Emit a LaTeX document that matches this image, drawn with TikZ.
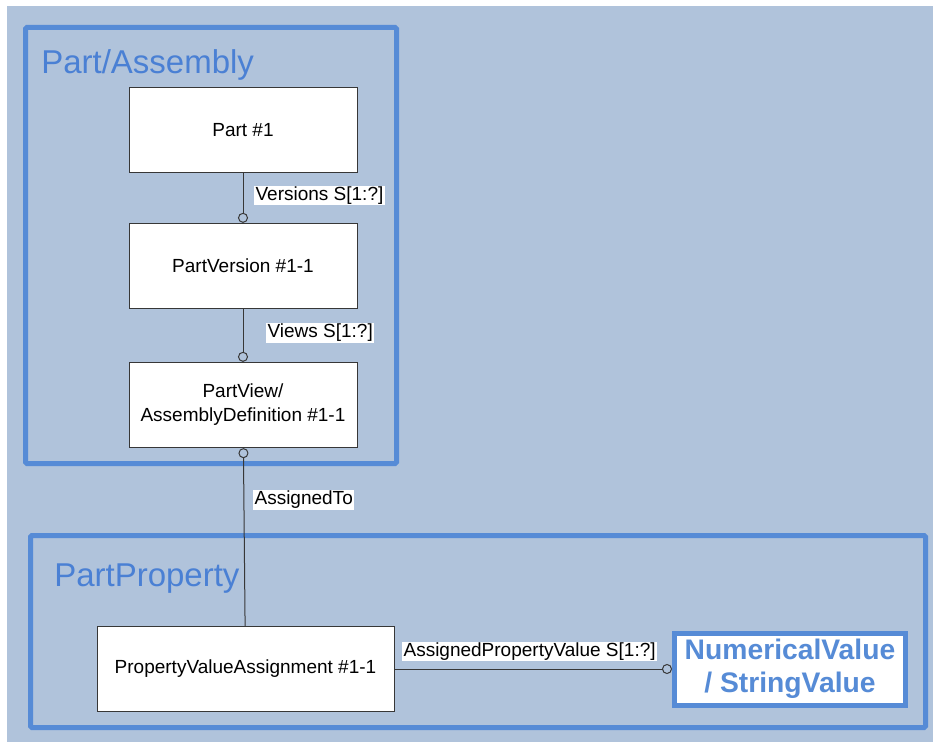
\documentclass[tikz,border=0pt]{standalone}
\usepackage{fontspec}
\setmainfont{Liberation Sans}
\usetikzlibrary{arrows.meta}

\definecolor{bgblue}{RGB}{176,195,219}
\definecolor{frameblue}{RGB}{86,139,214}
\definecolor{titleblue}{RGB}{74,128,212}
\definecolor{linegray}{RGB}{55,55,55}

\tikzset{
  entity/.style={draw=linegray, fill=white, line width=0.75pt, minimum width=171pt, minimum height=64pt, align=center, font=\fontsize{14.25}{18}\selectfont},
  rolelabel/.style={fill=white, inner xsep=1pt, inner ysep=0.75pt, anchor=west, font=\fontsize{14.25}{17}\selectfont},
  grouptitle/.style={anchor=base west, inner sep=0pt, text=titleblue, font=\fontsize{24.75}{30}\selectfont},
  groupframe/.style={draw=frameblue, line width=3.75pt, rounded corners=1pt},
  relation/.style={draw=linegray, line width=0.75pt, -{Circle[open,length=7.5pt,width=7.5pt]}}
}

\begin{document}
\begin{tikzpicture}[x=0.75pt,y=0.75pt,yscale=-1,xscale=1]

\useasboundingbox (0,0) rectangle (933,742);
\fill[bgblue] (7,6) rectangle (933,742);

% Group frames
\draw[groupframe] (25.5,27.5) rectangle (396.5,463.5);
\draw[groupframe] (30.5,535.5) rectangle (925.5,727.5);
\node[grouptitle] (tassembly) at (41,74) {Part/Assembly};
\node[grouptitle] (tproperty) at (54,586) {PartProperty};

% Entities
\node[entity] (part) at (243,130) {Part \#1};
\node[entity] (partversion) at (243,266) {PartVersion \#1-1};
\node[entity] (partview) at (243,405) {PartView/\\AssemblyDefinition \#1-1};
\node[entity, minimum width=222.75pt] (pva) at (245.5,669) {PropertyValueAssignment \#1-1};
\node[entity, draw=frameblue, line width=3.75pt, minimum width=173.25pt, minimum height=54pt, text=frameblue, font=\bfseries\fontsize{21.2}{24.75}\selectfont] (value) at (790,669) {NumericalValue\\/ StringValue};

% Relations
\draw[relation] (part) -- (partversion);
\draw[relation] (partversion) -- (partview);
\draw[relation, {Circle[open,length=7.5pt,width=7.5pt]}-] (partview) -- (pva);
\draw[relation] (pva) -- (value);

% Role labels
\node[rolelabel] (lversions) at (254,195.5) {Versions S[1:?]};
\node[rolelabel] (lviews) at (266,333) {Views S[1:?]};
\node[rolelabel] (lassigned) at (253,500) {AssignedTo};
\node[rolelabel] (lvalue) at (402,651.5) {AssignedPropertyValue S[1:?]};

\end{tikzpicture}
\end{document}
